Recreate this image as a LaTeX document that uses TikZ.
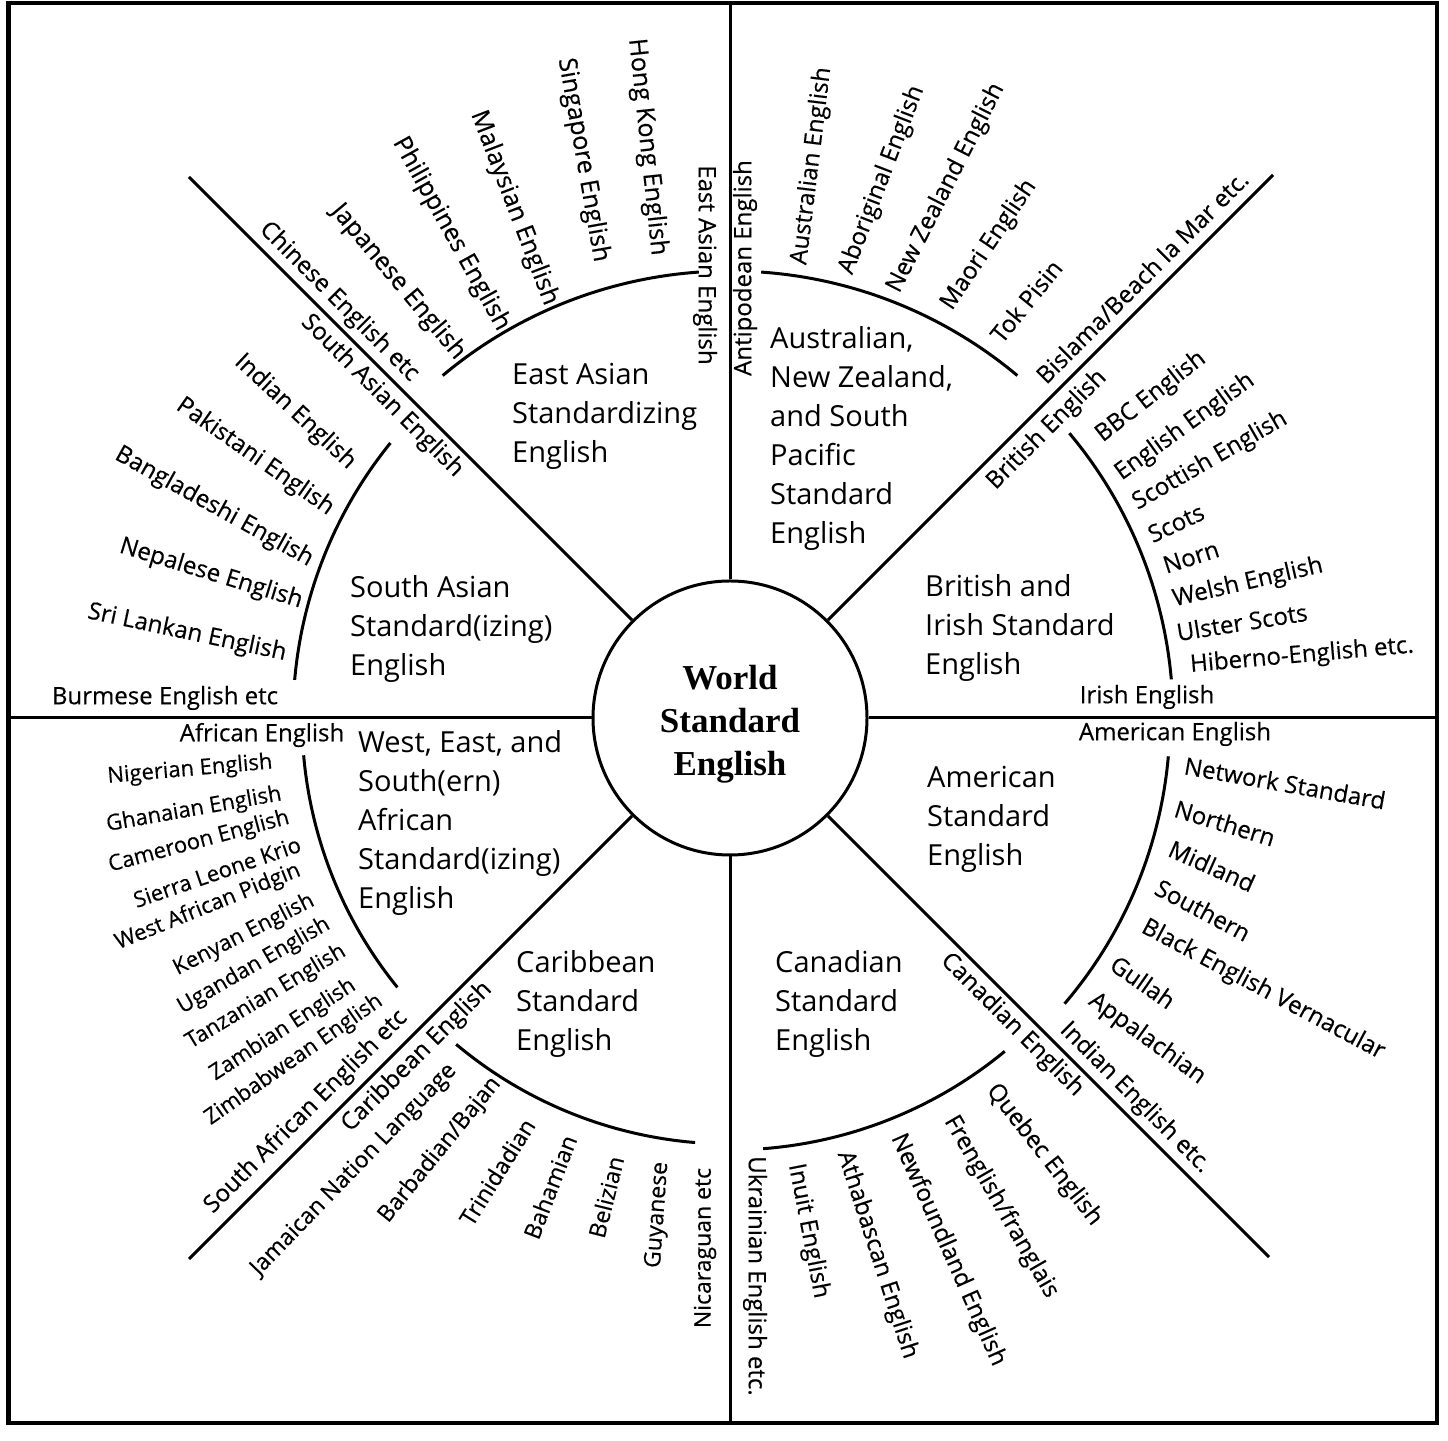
\documentclass[tikz,border=0pt]{standalone}
\usepackage{fontspec}
\setmainfont{Open Sans}
\newfontfamily\labfont[FakeBold=0.4]{Open Sans}
\newfontfamily\ctrfont{Liberation Serif}
\begin{document}
\begin{tikzpicture}[x=1pt,y=1pt,
  lab/.style={font=\labfont\fontsize{24}{24}\selectfont, inner sep=0pt, anchor=center},
  eal/.style={font=\labfont\fontsize{25}{25}\selectfont, inner sep=0pt, anchor=center},
  afl/.style={font=\labfont\fontsize{22}{22}\selectfont, inner sep=0pt, anchor=center},
  cbl/.style={font=\labfont\fontsize{23}{23}\selectfont, inner sep=0pt, anchor=center},
  sect/.style={font=\fontsize{29}{39}\selectfont, align=left, anchor=north west, inner sep=0pt},
  ln/.style={line width=3pt},
  hub/.style={circle, draw, line width=3pt, minimum size=274pt, inner sep=0pt},
  hubtext/.style={font=\ctrfont\bfseries\fontsize{35}{43}\selectfont, align=center, inner sep=0pt}
]
\useasboundingbox (0,0) rectangle (1448,1440);
% frame
\draw[line width=4.5pt] (8.5,17) rectangle (1437,1437);
% hub
\node[hub] (c) at (730,722) {};
\node[hubtext] (ctext) at (730,716) {World\\Standard\\English};
% end points of the spokes
\coordinate (T) at (730,1437);
\coordinate (B) at (730,17);
\coordinate (L) at (8.5,722);
\coordinate (R) at (1437,722);
\coordinate (NE) at (1273,1265);
\coordinate (NW) at (189,1263);
\coordinate (SW) at (189,181);
\coordinate (SE) at (1269,183);
\draw[ln] (c.north) -- (T);
\draw[ln] (c.south) -- (B);
\draw[ln] (c.west) -- (L);
\draw[ln] (c.east) -- (R);
\draw[ln] (c.45) -- (NE);
\draw[ln] (c.135) -- (NW);
\draw[ln] (c.225) -- (SW);
\draw[ln] (c.315) -- (SE);
% arcs
\draw[ln] ([shift={(94:447)}]c.center) arc[start angle=94,end angle=130,radius=447];
\draw[ln] ([shift={(50:447)}]c.center) arc[start angle=50,end angle=86,radius=447];
\draw[ln] ([shift={(5:443)}]c.center) arc[start angle=5,end angle=40,radius=443];
\draw[ln] ([shift={(-5:440)}]c.center) arc[start angle=-5,end angle=-40.5,radius=440];
\draw[ln] ([shift={(-50.5:432)}]c.center) arc[start angle=-50.5,end angle=-85.6,radius=432];
\draw[ln] ([shift={(-94.7:426)}]c.center) arc[start angle=-94.7,end angle=-130,radius=426];
\draw[ln] ([shift={(185:428)}]c.center) arc[start angle=185,end angle=219,radius=428];
\draw[ln] ([shift={(141:437)}]c.center) arc[start angle=141,end angle=175,radius=437];
% sector texts
\node[sect] (tEA) at (512,1077) {East Asian\\Standardizing\\English};
\node[sect] (tAU) at (770,1114) {Australian,\\New Zealand,\\and South\\Pacific\\Standard\\English};
\node[sect] (tSA) at (350,865) {South Asian\\Standard(izing)\\English};
\node[sect] (tBR) at (925,866) {British and\\Irish Standard\\English};
\node[sect] (tAF) at (358,710) {West, East, and\\South(ern)\\African\\Standard(izing)\\English};
\node[sect] (tAM) at (927,674) {American\\Standard\\English};
\node[sect] (tCB) at (516,490) {Caribbean\\Standard\\English};
\node[sect] (tCA) at (775,490) {Canadian\\Standard\\English};
% East Asian
\node[lab,rotate=-45] (chinese) at (339,1138) {Chinese English etc};
\node[eal,rotate=-50] (japanese) at (398,1158) {Japanese English};
\node[eal,rotate=-61] (philippines) at (451,1206) {Philippines English};
\node[eal,rotate=-69] (malaysian) at (514,1232) {Malaysian English};
\node[eal,rotate=-80] (singapore) at (583,1280) {Singapore English};
\node[eal,rotate=-84] (hongkong) at (647,1293) {Hong Kong English};
\node[lab,rotate=-90] (eastasian) at (705,1175) {East Asian English};
% Australian
\node[lab,rotate=90] (antipodean) at (745,1172) {Antipodean English};
\node[lab,rotate=83] (australian) at (812,1274) {Australian English};
\node[lab,rotate=69] (aboriginal) at (882,1260) {Aboriginal English};
\node[lab,rotate=63] (newzealand) at (946,1252) {New Zealand English};
\node[lab,rotate=56] (maori) at (989,1195) {Maori English};
\node[lab,rotate=51] (tokpisin) at (1026,1139) {Tok Pisin};
\node[lab,rotate=45] (bislama) at (1142,1163) {Bislama/Beach la Mar etc.};
% British
\node[lab,rotate=45] (british) at (1047,1010) {British English};
\node[lab,rotate=38] (bbc) at (1151,1043) {BBC English};
\node[lab,rotate=36] (english) at (1185,1013) {English English};
\node[lab,rotate=30] (scottish) at (1210,979) {Scottish English};
\node[lab,rotate=25] (scots) at (1176,917) {Scots};
\node[lab,rotate=18] (norn) at (1191,883) {Norn};
\node[lab,rotate=13] (welsh) at (1248,857) {Welsh English};
\node[lab,rotate=9] (ulster) at (1242,818) {Ulster Scots};
\node[lab,rotate=5] (hiberno) at (1302,784) {Hiberno-English etc.};
\node[lab] (irish) at (1147,743) {Irish English};
% American
\node[lab] (americaneng) at (1175,706) {American English};
\node[lab,rotate=-10] (network) at (1285,657) {Network Standard};
\node[lab,rotate=-17] (northern) at (1225,617) {Northern};
\node[lab,rotate=-24] (midland) at (1212,574) {Midland};
\node[lab,rotate=-28] (southern) at (1203,530) {Southern};
\node[lab,rotate=-28] (black) at (1263,450) {Black English Vernacular};
\node[lab,rotate=-35] (gullah) at (1143,458) {Gullah};
\node[lab,rotate=-36] (appalachian) at (1147,401) {Appalachian};
\node[lab,rotate=-45] (indianetc) at (1135,342) {Indian English etc.};
% Canadian
\node[lab,rotate=-45] (canadianeng) at (1012,415) {Canadian English};
\node[lab,rotate=-52] (quebec) at (1044,285) {Quebec English};
\node[lab,rotate=-60] (frenglish) at (1001,233) {Frenglish/franglais};
\node[lab,rotate=-66] (newfoundland) at (948,190) {Newfoundland English};
\node[lab,rotate=-72] (athabascan) at (877,185) {Athabascan English};
\node[lab,rotate=-79] (inuit) at (808,209) {Inuit English};
\node[lab,rotate=-90] (ukrainian) at (755,164) {Ukrainian English etc.};
% Caribbean
\node[cbl,rotate=90] (nicaraguan) at (705,192) {Nicaraguan etc};
\node[lab,rotate=45] (caribbeaneng) at (417,383) {Caribbean English};
\node[cbl,rotate=46] (jamaican) at (354,270) {Jamaican Nation Language};
\node[cbl,rotate=51] (barbadian) at (440,290) {Barbadian/Bajan};
\node[cbl,rotate=58] (trinidadian) at (497,268) {Trinidadian};
\node[cbl,rotate=69] (bahamian) at (550,253) {Bahamian};
\node[cbl,rotate=76] (belizian) at (606,243) {Belizian};
\node[cbl,rotate=86] (guyanese) at (658,225) {Guyanese};
% African
\node[lab] (africaneng) at (262,705) {African English};
\node[afl,rotate=5] (nigerian) at (190,670) {Nigerian English};
\node[afl,rotate=10] (ghanaian) at (194,630) {Ghanaian English};
\node[afl,rotate=15] (cameroon) at (199,598) {Cameroon English};
\node[afl,rotate=19] (sierra) at (217,568) {Sierra Leone Krio};
\node[afl,rotate=22] (westafrican) at (208,533) {West African Pidgin};
\node[afl,rotate=27] (kenyan) at (244,505) {Kenyan English};
\node[afl,rotate=30] (ugandan) at (254,474) {Ugandan English};
\node[afl,rotate=31] (tanzanian) at (266,443) {Tanzanian English};
\node[afl,rotate=33] (zambian) at (283,410) {Zambian English};
\node[afl,rotate=35] (zimbabwean) at (294,380) {Zimbabwean English};
\node[lab,rotate=45] (southafrican) at (306,328) {South African English etc};
% South Asian
\node[lab,rotate=-45] (southasian) at (382,1044) {South Asian English};
\node[lab,rotate=-43] (indian) at (295,1028) {Indian English};
\node[lab,rotate=-35] (pakistani) at (255,983) {Pakistani English};
\node[lab,rotate=-29] (bangladeshi) at (214,933) {Bangladeshi English};
\node[lab,rotate=-17] (nepalese) at (211,866) {Nepalese English};
\node[lab,rotate=-12] (srilankan) at (187,807) {Sri Lankan English};
\node[lab] (burmese) at (165,742) {Burmese English etc};
\end{tikzpicture}
\end{document}
